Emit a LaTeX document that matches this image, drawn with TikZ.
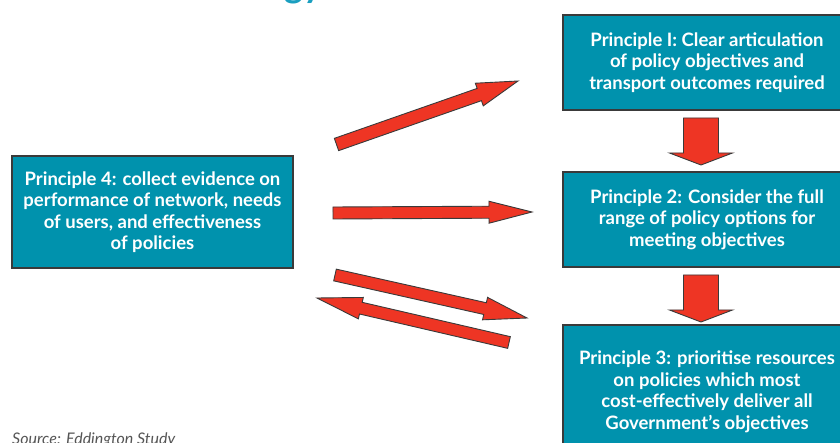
\documentclass[tikz,border=0pt]{standalone}
\usepackage{fontspec}
\setmainfont{Lato}
\usetikzlibrary{calc}

\definecolor{boxteal}{HTML}{0092AD}
\definecolor{titleteal}{HTML}{1A9FC0}
\definecolor{arrowred}{HTML}{EE3524}
\definecolor{edgegray}{HTML}{3A3A3A}
\definecolor{sourcegray}{HTML}{555555}

\tikzset{
  principle/.style={draw=edgegray, line width=1.3pt, fill=boxteal, text=white,
    font=\bfseries\fontsize{18.5}{21.5}\selectfont, align=center, inner sep=0pt},
  fatarrow/.style={draw=edgegray, line width=0.9pt, fill=arrowred, line join=miter},
}

% block arrow: #1 tail, #2 tip, #3 half shaft width, #4 half head width, #5 head length
\newcommand\blockarrow[5]{%
  \coordinate (ba-base) at ($(#2)!#5!(#1)$);
  \path[fatarrow]
    ($(#1)!#3!90:(#2)$) -- ($(ba-base)!#3!90:(#2)$) -- ($(ba-base)!#4!90:(#2)$)
    -- (#2) -- ($(ba-base)!#4!-90:(#2)$) -- ($(ba-base)!#3!-90:(#2)$)
    -- ($(#1)!#3!-90:(#2)$) -- cycle;
}

\begin{document}
\begin{tikzpicture}[x=1pt, y=-1pt]
  \clip (0,0) rectangle (840,443);
  \fill[white] (0,0) rectangle (840,443);

  % heading, cut by the top edge
  \node[anchor=base west, inner sep=0pt, text=titleteal,
        font=\bfseries\fontsize{36}{40}\selectfont] (title) at (284,-2.5) {gy};

  % the four principles
  \node[principle, minimum width=288pt, minimum height=95pt] (p1) at (707,62.5)
    {Principle I: Clear articulation\\of policy objectives and\\transport outcomes required};
  \node[principle, minimum width=288pt, minimum height=95pt] (p2) at (707,219.5)
    {Principle 2: Consider the full\\range of policy options for\\meeting objectives};
  \node[principle, minimum width=288pt, minimum height=134pt] (p3) at (707,392)
    {Principle 3: prioritise resources\\on policies which most\\cost-effectively deliver all\\Government's objectives};
  \node[principle, minimum width=281pt, minimum height=112pt] (p4) at (152.5,212)
    {Principle 4: collect evidence on\\performance of network, needs\\of users, and effectiveness\\of policies};

  % arrow end points
  \coordinate (d1s) at (701,118);   \coordinate (d1e) at (701,165);
  \coordinate (d2s) at (701,275);   \coordinate (d2e) at (701,322);
  \coordinate (a1s) at (336.5,144.5); \coordinate (a1e) at (518,81);
  \coordinate (a2s) at (333,213);   \coordinate (a2e) at (532,212);
  \coordinate (a3s) at (335,275);   \coordinate (a3e) at (527,318);
  \coordinate (a4s) at (509,342.5); \coordinate (a4e) at (317,298);

  \blockarrow{d1s}{d1e}{17.5pt}{31.5pt}{12pt}
  \blockarrow{d2s}{d2e}{17.5pt}{31.5pt}{12pt}
  \blockarrow{a1s}{a1e}{6.5pt}{12pt}{41pt}
  \blockarrow{a2s}{a2e}{6pt}{11pt}{43pt}
  \blockarrow{a3s}{a3e}{6pt}{11.5pt}{43pt}
  \blockarrow{a4s}{a4e}{6pt}{11pt}{45pt}

  % source line
  \node[anchor=base west, inner sep=0pt, text=sourcegray,
        font=\itshape\fontsize{16}{19}\selectfont] (src) at (12,444)
    {Source: Eddington Study};
\end{tikzpicture}
\end{document}
